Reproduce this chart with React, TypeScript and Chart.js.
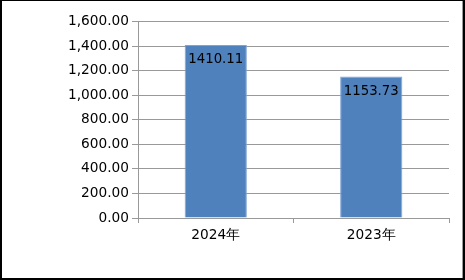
import React, { useEffect, useRef } from "react";
import { Chart, registerables } from "chart.js";

Chart.register(...registerables);

const categories = ["2024年", "2023年"];
const values = [1410.11, 1153.73];
const yMin = 0;
const yMax = 1600;
const yStep = 200;

const FONT = "DejaVu Sans";

const labelPlugin = {
  id: "barLabels",
  afterDatasetsDraw(chart: any) {
    const ctx = chart.ctx;
    const meta = chart.getDatasetMeta(0);
    ctx.save();
    ctx.font = `13.3px "${FONT}"`;
    ctx.fillStyle = "#000";
    ctx.textAlign = "center";
    ctx.textBaseline = "middle";
    meta.data.forEach((bar: any, i: number) => {
      ctx.fillText(String(values[i].toFixed(2)), bar.x, bar.y + 15);
    });
    ctx.restore();
  },
};

export default function App() {
  const ref = useRef<HTMLCanvasElement>(null);
  useEffect(() => {
    if (!ref.current) return;
    const chart = new Chart(ref.current, {
      type: "bar",
      data: {
        labels: categories,
        datasets: [
          {
            data: values,
            backgroundColor: "#4F81BD",
            borderColor: "#7FA3D3",
            borderWidth: 1,
            barPercentage: 0.4,
            categoryPercentage: 1.0,
          },
        ],
      },
      options: {
        animation: false,
        responsive: false,
        maintainAspectRatio: false,
        layout: { padding: { left: 0, right: 13, top: 20.7, bottom: 0 } },
        plugins: { legend: { display: false }, tooltip: { enabled: false } },
        scales: {
          x: {
            grid: {
              display: true,
              drawOnChartArea: false,
              drawTicks: true,
              tickLength: 5,
              color: "#999",
              offset: true,
            },
            border: { display: true, color: "#999" },
            ticks: { color: "#000", font: { family: FONT, size: 13.7 }, padding: 4 },
            afterFit: (s: any) => {
              s.height = 60;
            },
          },
          y: {
            min: yMin,
            max: yMax,
            ticks: {
              stepSize: yStep,
              color: "#000",
              font: { family: FONT, size: 13.7 },
              padding: 3,
              callback: (v: any) =>
                Number(v).toLocaleString("en-US", {
                  minimumFractionDigits: 2,
                  maximumFractionDigits: 2,
                }),
            },
            grid: { color: "#999", tickLength: 6, drawTicks: true },
            border: { display: true, color: "#999" },
            afterFit: (s: any) => {
              s.width = 136;
            },
          },
        },
      },
      plugins: [labelPlugin],
    });
    return () => chart.destroy();
  }, []);
  return (
    <div
      style={{
        position: "fixed",
        left: 0,
        top: 0,
        width: 465,
        height: 280,
        boxSizing: "border-box",
        borderTop: "1px solid #000",
        borderLeft: "2px solid #000",
        borderRight: "2px solid #000",
        borderBottom: "2px solid #000",
        background: "#fff",
      }}
    >
      <div style={{ width: 461, height: 277, boxSizing: "border-box", borderRight: "1px solid #999" }}>
        <canvas ref={ref} width={460} height={277} style={{ display: "block" }} />
      </div>
    </div>
  );
}
